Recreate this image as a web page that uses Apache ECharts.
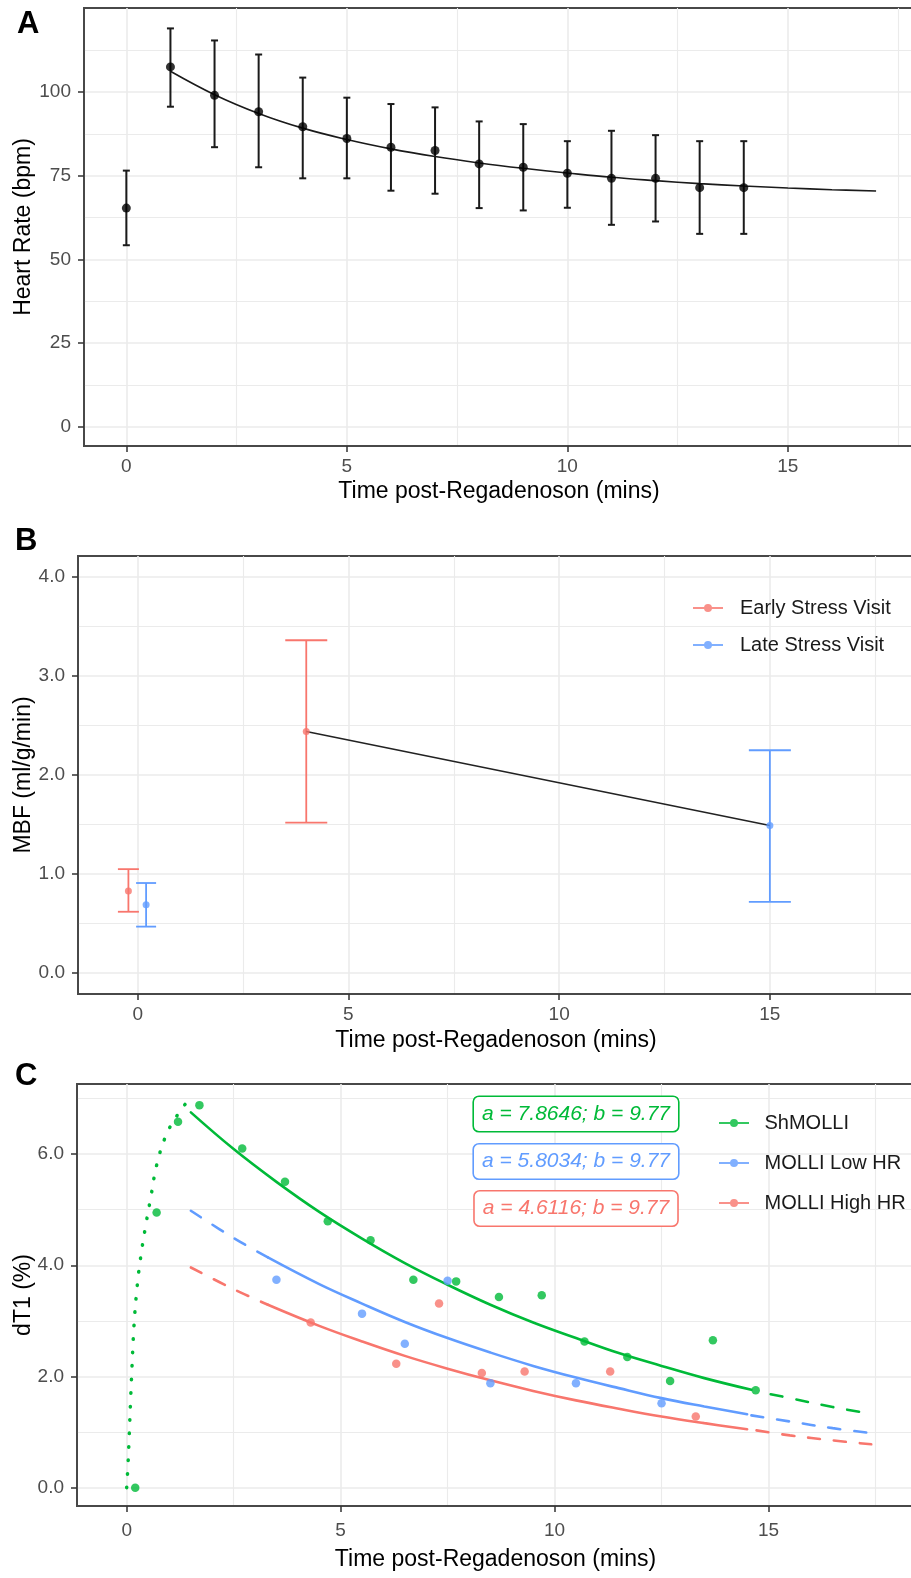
<!DOCTYPE html>
<html>
<head>
<meta charset="utf-8">
<title>Regadenoson time course</title>
<script src="https://cdn.jsdelivr.net/npm/echarts@6/dist/echarts.min.js"></script>
<style>
  html, body { margin: 0; padding: 0; background: #fff; }
  #chart { width: 911px; height: 1578px; }
</style>
</head>
<body>
<div id="chart"></div>
<script>
// ---- panel A: heart rate ----
const hrTime = [0, 1, 2, 3, 4, 5, 6, 7, 8, 9, 10, 11, 12, 13, 14]
const hrMean = [65.3, 107.5, 99, 94.1, 89.6, 86.1, 83.5, 82.5, 78.5, 77.5, 75.7, 74.2, 74.2, 71.4, 71.4]
const hrLow = [54.2, 95.6, 83.5, 77.5, 74.2, 74.2, 70.5, 69.6, 65.3, 64.6, 65.4, 60.3, 61.3, 57.6, 57.6]
const hrHigh = [76.5, 119, 115.4, 111.2, 104.3, 98.3, 96.4, 95.4, 91.2, 90.4, 85.3, 88.4, 87.1, 85.3, 85.3]
const hrFitTime = [1, 2, 3, 4, 5, 6, 7, 8, 9, 10, 11, 12, 13, 14, 15, 16, 17]
const hrFit = [106.2, 99.2, 93.6, 89.2, 85.8, 83.0, 80.7, 78.8, 77.2, 75.8, 74.5, 73.5, 72.6, 71.9, 71.3, 70.8, 70.4]

// ---- panel B: MBF ----
const earlyTime = [-0.22, 4]
const earlyMean = [0.83, 2.44]
const earlyLow = [0.62, 1.52]
const earlyHigh = [1.05, 3.36]
const lateTime = [0.2, 15]
const lateMean = [0.69, 1.49]
const lateLow = [0.47, 0.72]
const lateHigh = [0.91, 2.25]
const trendTime = [4, 15]
const trendMbf = [2.44, 1.49]

// ---- panel C: dT1 ----
const shTime = [0.2, 0.7, 1.2, 1.7, 2.7, 3.7, 4.7, 5.7, 6.7, 7.7, 8.7, 9.7, 10.7, 11.7, 12.7, 13.7, 14.7]
const shT1 = [0, 4.95, 6.58, 6.88, 6.10, 5.50, 4.79, 4.45, 3.74, 3.71, 3.43, 3.46, 2.63, 2.35, 1.92, 2.65, 1.75]
const lowTime = [3.5, 5.5, 6.5, 7.5, 8.5, 10.5, 12.5]
const lowT1 = [3.74, 3.13, 2.59, 3.72, 1.88, 1.88, 1.52]
const highTime = [4.3, 6.3, 7.3, 8.3, 9.3, 11.3, 13.3]
const highT1 = [2.97, 2.23, 3.31, 2.06, 2.09, 2.09, 1.28]

// fitted curves: rise (dotted), early dashed, solid, late dashed
const shRiseTime = [0, 0.03, 0.06, 0.09, 0.12, 0.17, 0.23, 0.31, 0.43, 0.57, 0.7, 0.9, 1.1, 1.39]
const shRise = [0, 0.4, 0.95, 1.55, 2.1, 2.9, 3.5, 4.05, 4.65, 5.25, 5.8, 6.3, 6.6, 6.92]
const shFitTime = [1.5, 2.5, 3.5, 4.5, 5.5, 6.5, 7.5, 8.5, 9.5, 10.5, 11.5, 12.5, 13.5, 14.6, 15.05, 15.5, 16.5, 17.4]
const shFit = [6.75, 6.09, 5.50, 4.96, 4.48, 4.04, 3.65, 3.29, 2.97, 2.69, 2.42, 2.19, 1.97, 1.76, 1.68, 1.61, 1.45, 1.33]
const lowFitTime = [1.5, 2.5, 3.3, 4.5, 5.5, 6.5, 7.5, 8.5, 9.5, 10.5, 11.5, 12.5, 13.5, 14.5, 14.6, 15.5, 16.5, 17.4]
const lowFit = [4.98, 4.49, 4.14, 3.66, 3.31, 2.98, 2.69, 2.43, 2.19, 1.98, 1.79, 1.61, 1.46, 1.32, 1.30, 1.19, 1.07, 0.98]
const highFitTime = [1.5, 2.5, 3.3, 4.5, 5.5, 6.5, 7.5, 8.5, 9.5, 10.5, 11.5, 12.5, 13.5, 14.5, 14.72, 15.5, 16.5, 17.4]
const highFit = [3.96, 3.57, 3.29, 2.91, 2.63, 2.37, 2.14, 1.93, 1.74, 1.57, 1.42, 1.28, 1.16, 1.05, 1.03, 0.94, 0.85, 0.78]
const fitLabels = ['a = 7.8646; b = 9.77', 'a = 5.8034; b = 9.77', 'a = 4.6116; b = 9.77']

// ---- ticks ----
const timeTicks = [0, 5, 10, 15]
const timeMinor = [2.5, 7.5, 12.5, 17.5]
const hrTicks = [0, 25, 50, 75, 100]
const hrMinor = [12.5, 37.5, 62.5, 87.5, 112.5]
const mbfTicks = [0, 1, 2, 3, 4]
const mbfMinor = [0.5, 1.5, 2.5, 3.5]
const dT1Ticks = [0, 2, 4, 6]
const dT1Minor = [1, 3, 5, 7]

const FONT = '"Liberation Sans", Arial, sans-serif'
const RED = '#F8766D'
const GREEN = '#00BA38'
const BLUE = '#619CFF'
const BORDER = '#484848'
const GRIDLINE = '#EBEBEB'
const DASH = [12, 14]
const legendIcon = 'path://M0,3.1H30V4.9H0Z M11,4A4,4 0 1,1 19,4A4,4 0 1,1 11,4Z'

const pairs = (xs, ys) => xs.map((x, i) => [x, ys[i]])
const triples = (xs, lo, hi) => xs.map((x, i) => [x, lo[i], hi[i]])

const titleStyle = { color: '#000', fontSize: 23, fontFamily: FONT }
const labelStyle = { color: '#4D4D4D', fontSize: 19, fontFamily: FONT }

const majorX = (gi, min, max, margin, nameGap) => ({
  gridIndex: gi, type: 'value', min, max, position: 'bottom',
  axisLine: { show: true, onZero: false, lineStyle: { color: BORDER, width: 1.9 } },
  axisTick: { show: true, length: 6, customValues: timeTicks, lineStyle: { color: '#333', width: 1.5 } },
  axisLabel: Object.assign({ customValues: timeTicks, margin }, labelStyle),
  splitLine: { show: true, lineStyle: { color: GRIDLINE, width: 1.6 } },
  name: 'Time post-Regadenoson (mins)', nameLocation: 'middle', nameGap,
  nameMoveOverlap: false, nameTextStyle: titleStyle
})
const minorAxis = (gi, min, max, ticks, pos) => ({
  gridIndex: gi, type: 'value', min, max, position: pos,
  axisLine: { show: false }, axisLabel: { show: false },
  axisTick: { show: false, customValues: ticks },
  splitLine: { show: true, lineStyle: { color: GRIDLINE, width: 1.1 } }
})
const majorY = (gi, min, max, ticks, name, nameGap, fmt) => ({
  gridIndex: gi, type: 'value', min, max, position: 'left',
  axisLine: { show: true, onZero: false, lineStyle: { color: BORDER, width: 1.9 } },
  axisTick: { show: true, length: 6, customValues: ticks, lineStyle: { color: '#333', width: 1.5 } },
  axisLabel: Object.assign({ customValues: ticks, margin: 13, formatter: fmt }, labelStyle),
  splitLine: { show: true, lineStyle: { color: GRIDLINE, width: 1.6 } },
  name, nameLocation: 'middle', nameGap, nameMoveOverlap: false, nameTextStyle: titleStyle
})

// vertical bar with caps, drawn through the axis scales
const errorBars = (axis, color, width, capHalf) => ({
  type: 'custom', xAxisIndex: axis, yAxisIndex: axis, silent: true,
  encode: { x: 0, y: [1, 2] },
  renderItem: (params, api) => {
    const x = api.value(0)
    const lo = api.coord([x, api.value(1)])
    const hi = api.coord([x, api.value(2)])
    const half = capHalf(x)
    const style = { stroke: color, lineWidth: width, fill: null }
    return {
      type: 'group',
      children: [
        { type: 'line', shape: { x1: lo[0], y1: lo[1], x2: hi[0], y2: hi[1] }, style },
        { type: 'line', shape: { x1: lo[0] - half, y1: lo[1], x2: lo[0] + half, y2: lo[1] }, style },
        { type: 'line', shape: { x1: hi[0] - half, y1: hi[1], x2: hi[0] + half, y2: hi[1] }, style }
      ]
    }
  }
})

const curve = (xs, ys, from, to, color, type, width) => ({
  type: 'line', xAxisIndex: 4, yAxisIndex: 4, silent: true,
  data: pairs(xs, ys).slice(from, to + 1),
  smooth: 0.4, showSymbol: false, symbol: 'none',
  lineStyle: { color, width: width || 2.6, type, cap: 'round' }, z: 3
})

const chart = echarts.init(document.getElementById('chart'), null, { renderer: 'canvas' })

chart.setOption({
  animation: false,
  backgroundColor: '#fff',
  grid: [
    { left: 84, top: 8, width: 830, height: 438, show: true, borderColor: BORDER, borderWidth: 1.9, containLabel: false, outerBoundsMode: 'none' },
    { left: 78, top: 556, width: 836, height: 438, show: true, borderColor: BORDER, borderWidth: 1.9, containLabel: false, outerBoundsMode: 'none' },
    { left: 77, top: 1084, width: 837, height: 422, show: true, borderColor: BORDER, borderWidth: 1.9, containLabel: false, outerBoundsMode: 'none' }
  ],
  xAxis: [
    majorX(0, -0.96, 17.86, 11, 34),
    minorAxis(0, -0.96, 17.86, timeMinor, 'bottom'),
    majorX(1, -1.416, 18.42, 11, 35),
    minorAxis(1, -1.416, 18.42, timeMinor, 'bottom'),
    majorX(2, -1.161, 18.4, 15, 42),
    minorAxis(2, -1.161, 18.4, timeMinor, 'bottom')
  ],
  yAxis: [
    majorY(0, -5.8, 125.1, hrTicks, 'Heart Rate (bpm)', 49, v => String(v)),
    minorAxis(0, -5.8, 125.1, hrMinor, 'left'),
    majorY(1, -0.21, 4.21, mbfTicks, 'MBF (ml/g/min)', 43, v => v.toFixed(1)),
    minorAxis(1, -0.21, 4.21, mbfMinor, 'left'),
    majorY(2, -0.33, 7.26, dT1Ticks, 'dT1 (%)', 42, v => v.toFixed(1)),
    minorAxis(2, -0.33, 7.26, dT1Minor, 'left')
  ],
  legend: [
    {
      data: ['Early Stress Visit', 'Late Stress Visit'],
      orient: 'vertical', left: 693, top: 597, padding: 0, itemGap: 15,
      itemWidth: 30, itemHeight: 8, icon: legendIcon, selectedMode: false,
      textStyle: { color: '#1A1A1A', fontSize: 20, fontFamily: FONT, lineHeight: 22, padding: [0, 0, 0, 12] }
    },
    {
      data: ['ShMOLLI', 'MOLLI Low HR', 'MOLLI High HR'],
      orient: 'vertical', left: 719, top: 1112, padding: 0, itemGap: 18,
      itemWidth: 31, itemHeight: 8, icon: legendIcon, selectedMode: false,
      textStyle: { color: '#1A1A1A', fontSize: 20, fontFamily: FONT, lineHeight: 22, padding: [0, 0, 0, 10] }
    }
  ],
  graphic: [
    { type: 'text', left: 17, top: 9, z: 100, style: { text: 'A', font: 'bold 31px ' + FONT, fill: '#000' } },
    { type: 'text', left: 15, top: 526, z: 100, style: { text: 'B', font: 'bold 31px ' + FONT, fill: '#000' } },
    { type: 'text', left: 15, top: 1061, z: 100, style: { text: 'C', font: 'bold 31px ' + FONT, fill: '#000' } },
    ...fitLabels.map((t, i) => ({
      type: 'text', x: 576, y: [1114, 1161.5, 1208.5][i], z: 100,
      style: {
        text: t, font: 'italic 21px ' + FONT, fill: [GREEN, BLUE, RED][i],
        align: 'center', verticalAlign: 'middle',
        backgroundColor: '#fff', borderColor: [GREEN, BLUE, RED][i], borderWidth: 1.6,
        borderRadius: 5, padding: [7, 8, 6, 8]
      }
    }))
  ],
  series: [
    // A
    Object.assign(errorBars(0, '#1A1A1A', 2, () => 3.5), { data: triples(hrTime, hrLow, hrHigh) }),
    {
      type: 'line', xAxisIndex: 0, yAxisIndex: 0, silent: true,
      data: pairs(hrFitTime, hrFit), smooth: 0.4,
      showSymbol: false, symbol: 'none', lineStyle: { color: '#1A1A1A', width: 1.6 }
    },
    {
      type: 'scatter', xAxisIndex: 0, yAxisIndex: 0, silent: true,
      data: pairs(hrTime, hrMean), symbolSize: 9, itemStyle: { color: '#000' }, z: 4
    },
    // B
    {
      type: 'line', xAxisIndex: 2, yAxisIndex: 2, silent: true,
      data: pairs(trendTime, trendMbf), showSymbol: false, symbol: 'none',
      lineStyle: { color: '#222', width: 1.5 }
    },
    Object.assign(errorBars(2, RED, 1.8, x => (x < 1 ? 10.5 : 21)), { data: triples(earlyTime, earlyLow, earlyHigh) }),
    Object.assign(errorBars(2, BLUE, 1.8, x => (x < 1 ? 10 : 21)), { data: triples(lateTime, lateLow, lateHigh) }),
    {
      name: 'Early Stress Visit', type: 'scatter', xAxisIndex: 2, yAxisIndex: 2, silent: true,
      data: pairs(earlyTime, earlyMean), symbolSize: 7, itemStyle: { color: RED }, z: 4
    },
    {
      name: 'Late Stress Visit', type: 'scatter', xAxisIndex: 2, yAxisIndex: 2, silent: true,
      data: pairs(lateTime, lateMean), symbolSize: 7, itemStyle: { color: BLUE }, z: 4
    },
    // C fitted curves
    curve(shRiseTime, shRise, 0, shRise.length - 1, GREEN, [0.5, 13], 3.5),
    curve(shFitTime, shFit, 0, 13, GREEN, 'solid'),
    curve(shFitTime, shFit, 14, 17, GREEN, DASH),
    curve(lowFitTime, lowFit, 0, 2, BLUE, DASH),
    curve(lowFitTime, lowFit, 2, 13, BLUE, 'solid'),
    curve(lowFitTime, lowFit, 14, 17, BLUE, DASH),
    curve(highFitTime, highFit, 0, 2, RED, DASH),
    curve(highFitTime, highFit, 2, 13, RED, 'solid'),
    curve(highFitTime, highFit, 14, 17, RED, DASH),
    {
      name: 'ShMOLLI', type: 'scatter', xAxisIndex: 4, yAxisIndex: 4, silent: true,
      data: pairs(shTime, shT1), symbolSize: 8.5, itemStyle: { color: GREEN }, z: 4
    },
    {
      name: 'MOLLI Low HR', type: 'scatter', xAxisIndex: 4, yAxisIndex: 4, silent: true,
      data: pairs(lowTime, lowT1), symbolSize: 8.5, itemStyle: { color: BLUE }, z: 4
    },
    {
      name: 'MOLLI High HR', type: 'scatter', xAxisIndex: 4, yAxisIndex: 4, silent: true,
      data: pairs(highTime, highT1), symbolSize: 8.5, itemStyle: { color: RED }, z: 4
    }
  ]
})

window.addEventListener('resize', () => chart.resize())
</script>
</body>
</html>
